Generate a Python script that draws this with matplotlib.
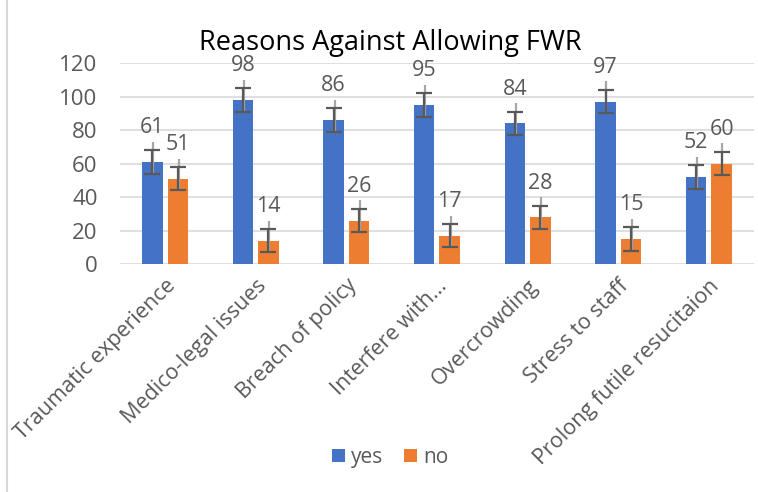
import numpy as np
import matplotlib.pyplot as plt

categories = ['Traumatic experience', 'Medico-legal issues', 'Breach of policy',
              'Interfere with...', 'Overcrowding', 'Stress to staff',
              'Prolong futile resucitaion']
yes_vals = [61, 98, 86, 95, 84, 97, 52]
no_vals = [51, 14, 26, 17, 28, 15, 60]
err = 7

plt.rcParams['font.family'] = ['Open Sans', 'DejaVu Sans']

fig = plt.figure(figsize=(7.58, 4.92), dpi=100)
ax = fig.add_axes([0.158, 0.463, 0.837, 0.409])

x = np.arange(len(categories))
w = 0.225
off = 0.14
blue = '#4472C4'
orange = '#ED7D31'
txt = '#595959'

ax.bar(x - off, yes_vals, width=w, color=blue, label='yes', zorder=2)
ax.bar(x + off, no_vals, width=w, color=orange, label='no', zorder=2)

for xs, vals in [(x - off, yes_vals), (x + off, no_vals)]:
    vals = np.array(vals)
    # faint second error line
    ax.vlines(xs + 0.01, vals - err, vals + 12, color='#A6A6A6', lw=1.6, zorder=3)
    ax.errorbar(xs, vals, yerr=err, fmt='none', ecolor='#595959', elinewidth=1.6,
                capsize=6, capthick=1.6, zorder=4)
    for xi, v in zip(xs, vals):
        ax.annotate(str(v), xy=(xi, v), xytext=(0, 17), textcoords='offset points',
                    ha='center', va='bottom', fontsize=15.5, color=txt)

ax.set_ylim(0, 120)
ax.set_xlim(-0.5, len(categories) - 0.5)
ax.set_yticks(range(0, 121, 20))
ax.yaxis.grid(True, color='#D9D9D9', lw=1.2, zorder=0)
ax.set_axisbelow(True)
for s in ax.spines.values():
    s.set_visible(False)
ax.tick_params(axis='y', length=0, labelsize=16, colors=txt, pad=16)
ax.set_xticks(x)
ax.set_xticklabels(categories, rotation=45, ha='right', rotation_mode='anchor')
ax.tick_params(axis='x', length=0, labelsize=15.5, colors=txt, pad=8)

fig.text(0.515, 0.913, 'Reasons Against Allowing FWR', ha='center', va='center',
         fontsize=19.5, color='black')

fig.legend(loc='center', bbox_to_anchor=(0.515, 0.071), ncol=2, frameon=False,
           fontsize=15, handlelength=0.6, handleheight=0.6, columnspacing=1.0,
           handletextpad=0.3, labelcolor=txt)

fig.add_artist(plt.Line2D([0.009, 0.009], [0, 1], color='#D9D9D9', lw=1.5,
                          transform=fig.transFigure))

fig.savefig('out.png', dpi=100)
